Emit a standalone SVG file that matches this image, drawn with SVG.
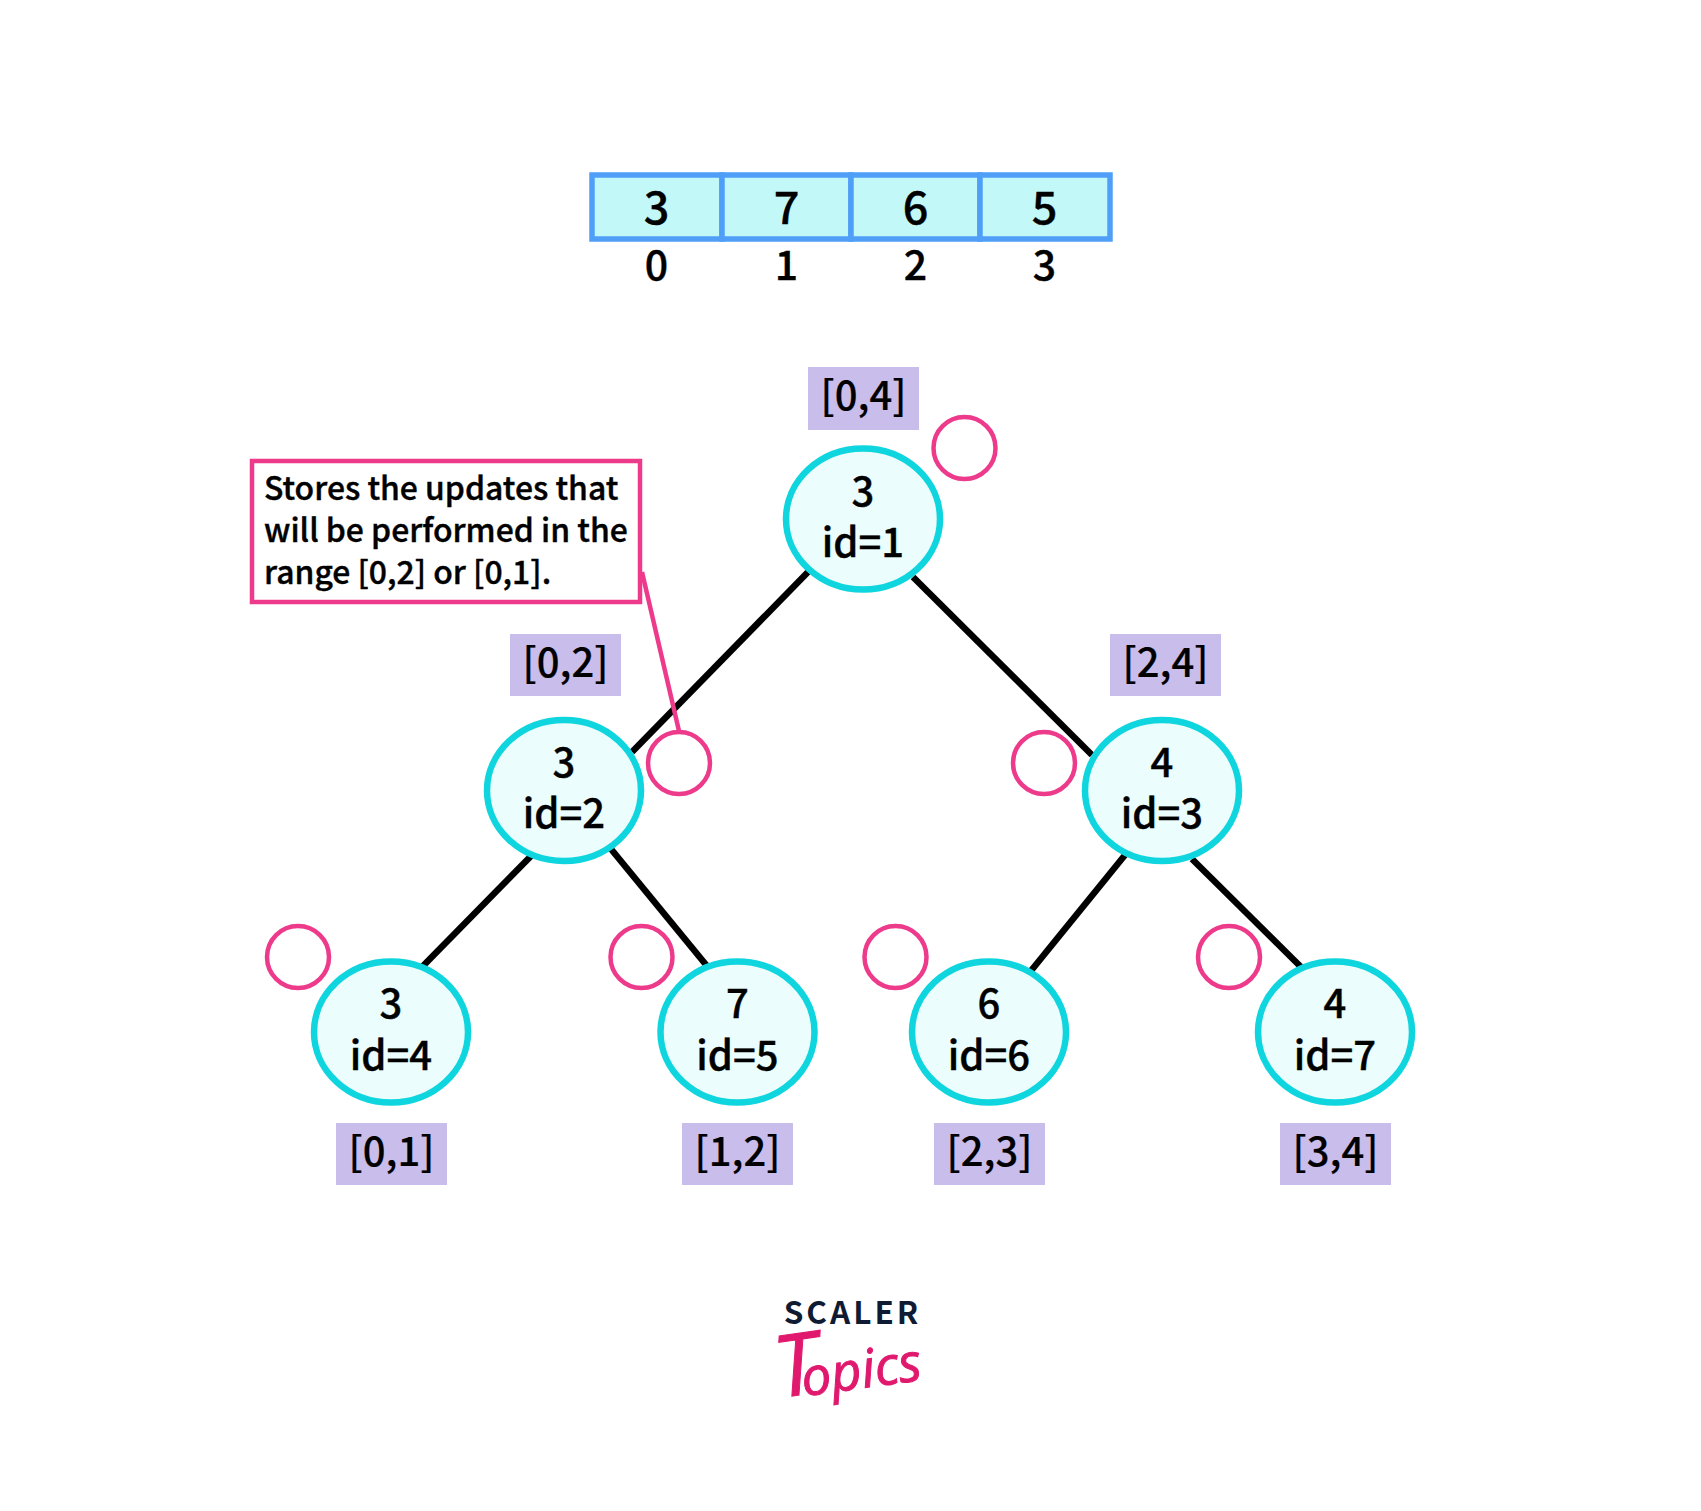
<svg xmlns="http://www.w3.org/2000/svg" width="1701" height="1511" viewBox="0 0 1701 1511">
<style>
text{font-family:"Noto Sans CJK SC","Noto Sans",sans-serif;font-weight:500;fill:#000;text-anchor:middle;stroke:#000;stroke-width:.4px}
.n{font-size:40px}.d{font-size:45px}.i{font-size:41px}.r{font-size:40px;stroke-width:.2px}
.c{fill:#ebfdfd;stroke:#0fd5de;stroke-width:6.5}
.p{fill:#fff;stroke:#ee3a8b;stroke-width:4.5}
.l{fill:#c9bdec}
.a{fill:#c3f8f9;stroke:#4f9ff8;stroke-width:5.5}
.e{stroke:#000;stroke-width:6.5;fill:none}
.t{font-size:31.9px;text-anchor:start}
</style>
<rect width="1701" height="1511" fill="#fff"/>
<g id="array">
<rect class="a" x="592" y="175" width="130" height="64"/><rect class="a" x="722" y="175" width="129" height="64"/><rect class="a" x="851" y="175" width="129" height="64"/><rect class="a" x="980" y="175" width="130" height="64"/>
<text class="d" x="656.500" y="224">3</text><text class="d" x="786.500" y="224">7</text><text class="d" x="915.500" y="224">6</text><text class="d" x="1044.500" y="224">5</text>
<text class="i" x="656.500" y="280">0</text><text class="i" x="786.500" y="280">1</text><text class="i" x="915.500" y="280">2</text><text class="i" x="1044.500" y="280">3</text>
</g>
<g id="connectors">
<path class="e" d="M808 572L632 752"/><path class="e" d="M913 577L1092 755"/><path class="e" d="M532 855L422 967"/><path class="e" d="M611 849L707 966"/><path class="e" d="M1125 855L1030 972"/><path class="e" d="M1192 859L1302 968"/>
<path d="M642 572L679 731" fill="none" stroke="#ee3a8b" stroke-width="4.5"/>
</g>
<g id="callout"><rect class="p" x="252" y="461" width="388" height="141"/>
<text class="t" x="264" y="499.500">Stores the updates that</text><text class="t" x="264" y="541.500">will be performed in the</text><text class="t" x="264" y="583.500">range [0,2] or [0,1].</text></g>
<g id="node1"><ellipse class="c" cx="863" cy="519" rx="77" ry="70.5"/><text class="n" x="863" y="506">3</text><text class="n" x="863" y="557">id=1</text></g>
<g id="node2"><ellipse class="c" cx="564" cy="790.500" rx="77" ry="70.5"/><text class="n" x="564" y="777">3</text><text class="n" x="564" y="828">id=2</text></g>
<g id="node3"><ellipse class="c" cx="1162" cy="790.500" rx="77" ry="70.5"/><text class="n" x="1162" y="777">4</text><text class="n" x="1162" y="828">id=3</text></g>
<g id="node4"><ellipse class="c" cx="391" cy="1032" rx="77" ry="70.5"/><text class="n" x="391" y="1018">3</text><text class="n" x="391" y="1070">id=4</text></g>
<g id="node5"><ellipse class="c" cx="737.500" cy="1032" rx="77" ry="70.5"/><text class="n" x="737.500" y="1018">7</text><text class="n" x="737.500" y="1070">id=5</text></g>
<g id="node6"><ellipse class="c" cx="989" cy="1032" rx="77" ry="70.5"/><text class="n" x="989" y="1018">6</text><text class="n" x="989" y="1070">id=6</text></g>
<g id="node7"><ellipse class="c" cx="1335" cy="1032" rx="77" ry="70.5"/><text class="n" x="1335" y="1018">4</text><text class="n" x="1335" y="1070">id=7</text></g>
<g id="lazy">
<circle class="p" cx="964.500" cy="448" r="31"/><circle class="p" cx="679" cy="763" r="31"/><circle class="p" cx="1044" cy="763" r="31"/><circle class="p" cx="298" cy="957" r="31"/><circle class="p" cx="641.500" cy="957" r="31"/><circle class="p" cx="895.500" cy="957" r="31"/><circle class="p" cx="1229" cy="957" r="31"/>
</g>
<g id="ranges">
<rect class="l" x="808" y="367" width="111" height="63"/><text class="r" x="863.500" y="410">[0,4]</text>
<rect class="l" x="510" y="634" width="111" height="62"/><text class="r" x="565.500" y="677">[0,2]</text>
<rect class="l" x="1110" y="634" width="111" height="62"/><text class="r" x="1165.500" y="677">[2,4]</text>
<rect class="l" x="336" y="1123" width="111" height="62"/><text class="r" x="391.500" y="1166">[0,1]</text>
<rect class="l" x="682" y="1123" width="111" height="62"/><text class="r" x="737.500" y="1166">[1,2]</text>
<rect class="l" x="934" y="1123" width="111" height="62"/><text class="r" x="989.500" y="1166">[2,3]</text>
<rect class="l" x="1280" y="1123" width="111" height="62"/><text class="r" x="1335.500" y="1166">[3,4]</text>
</g>
<g id="logo">
<text x="852.500" y="1324" style="font-size:31.500px;font-weight:700;fill:#0f1b33;stroke:none;letter-spacing:3px">SCALER</text>
<text transform="rotate(-8 850 1387)" x="778" y="1388" style="font-family:'Open Sans',sans-serif;font-style:italic;font-weight:400;text-anchor:start;fill:#e0196e;stroke:#e0196e;stroke-width:1px;font-size:86px">T<tspan dx="-18" dy="2" style="font-size:53px;font-weight:500">opics</tspan></text>
</g>
</svg>
